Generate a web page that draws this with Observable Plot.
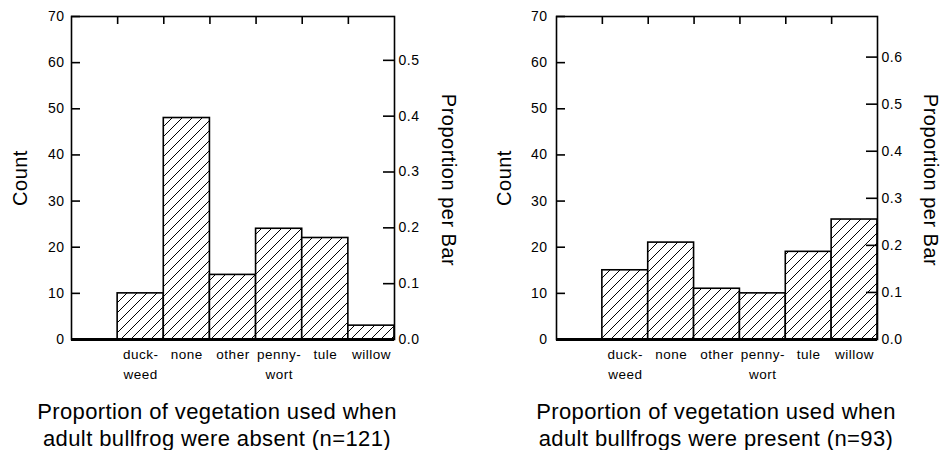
<!DOCTYPE html>
<html><head><meta charset="utf-8">
<script src="https://cdn.jsdelivr.net/npm/d3@7"></script>
<script src="https://cdn.jsdelivr.net/npm/@observablehq/plot@0.6"></script>
<style>
html,body{margin:0;padding:0;background:#fff;}
#wrap{position:relative;width:941px;height:450px;overflow:hidden;font-family:"Liberation Sans",Arial,sans-serif;background:#fff;}
.panel{position:absolute;top:0;}
.cap{position:absolute;top:398px;width:420px;text-align:center;font-size:22px;line-height:27px;letter-spacing:0.4px;color:#000;white-space:nowrap;}
</style></head><body>
<div id="wrap"></div>
<script>
// ---- data ----
const categories = ["duckweed", "none", "other", "pennywort", "tule", "willow"];
const tickLabels = ["duck-\nweed", "none", "other", "penny-\nwort", "tule", "willow"];
const countsAbsent = [10, 48, 14, 24, 22, 3];
const countsPresent = [15, 21, 11, 10, 19, 26];
const countTicks = [0, 10, 20, 30, 40, 50, 60, 70];
const propTicksAbsent = [0, 0.1, 0.2, 0.3, 0.4, 0.5];
const propTicksPresent = [0, 0.1, 0.2, 0.3, 0.4, 0.5, 0.6];
const captionAbsent = ["Proportion of vegetation used when", "adult bullfrog were absent (n=121)"];
const captionPresent = ["Proportion of vegetation used when", "adult bullfrogs were present (n=93)"];

const W = 470, H = 385, MT = 16, FRAME_BOTTOM = 339;

function panel({counts, propTicks, hatchId, marginLeft, marginRight, leftPad, countDx, propDx}) {
  const total = d3.sum(counts);
  const data = categories.map((c, i) => ({cat: c, slot: i + 1, count: counts[i]}));
  const innerW = W - marginLeft - marginRight;
  const innerH = FRAME_BOTTOM - MT;
  const svg = Plot.plot({
    width: W, height: H,
    marginLeft, marginRight, marginTop: MT, marginBottom: H - FRAME_BOTTOM,
    style: {fontFamily: "'Liberation Sans', Arial, sans-serif", fontSize: "14px", color: "#000", background: "transparent", overflow: "visible", letterSpacing: "0.5px"},
    x: {domain: [0, categories.length + 1], axis: null},
    y: {domain: [0, 70], axis: null},
    marks: [
      Plot.rectY(data, {x1: "slot", x2: d => d.slot + 1, y: "count", fill: `url(#${hatchId})`, stroke: "#000", strokeWidth: 1.6}),
      Plot.frame({stroke: "#000", strokeWidth: 1.6}),
      Plot.ruleY([0], {stroke: "#000", strokeWidth: 3}),
      Plot.tickY(countTicks, {y: d => d, insetRight: innerW - 9, stroke: "#000", strokeWidth: 1.6}),
      Plot.tickY(propTicks.map(p => p * total), {y: d => d, insetLeft: innerW - 11, stroke: "#000", strokeWidth: 1.6}),
      Plot.tickX(data.map(d => d.slot), {x: d => d, insetBottom: innerH - 8, stroke: "#000", strokeWidth: 1.6}),
      Plot.axisY(countTicks, {anchor: "left", tickSize: 0, tickPadding: leftPad, label: null, fill: "#000", fontSize: 14}),
      Plot.axisY(propTicks.map(p => p * total), {anchor: "right", tickSize: 0, tickPadding: 4, label: null, tickFormat: d => (d / total).toFixed(1), fill: "#000", fontSize: 14}),
      Plot.axisX(data.map(d => d.slot + 0.5), {anchor: "bottom", tickSize: 0, tickPadding: 6, label: null, lineHeight: 1.45, fontSize: 13.5, tickFormat: d => tickLabels[Math.round(d - 1.5)], fill: "#000"}),
      Plot.text(["Count"], {text: d => d, frameAnchor: "left", dx: countDx, rotate: -90, fontSize: 20, textAnchor: "middle", fill: "#000"}),
      Plot.text(["Proportion per Bar"], {text: d => d, frameAnchor: "right", dx: propDx, dy: 2, rotate: 90, fontSize: 20, textAnchor: "middle", fill: "#000"})
    ]
  });
  const defs = d3.select(svg).insert("defs", ":first-child");
  const pat = defs.append("pattern").attr("id", hatchId).attr("patternUnits", "userSpaceOnUse").attr("width", 10).attr("height", 10);
  pat.append("rect").attr("width", 10).attr("height", 10).attr("fill", "#fff");
  pat.append("path").attr("d", "M-1,1 L1,-1 M0,10 L10,0 M9,11 L11,9").attr("stroke", "#000").attr("stroke-width", 1);
  return svg;
}

const wrap = document.getElementById("wrap");
function addPanel(left, svg, caption, capLeft) {
  const div = document.createElement("div");
  div.className = "panel";
  div.style.left = left + "px";
  div.appendChild(svg);
  wrap.appendChild(div);
  const cap = document.createElement("div");
  cap.className = "cap";
  cap.style.left = capLeft + "px";
  cap.innerHTML = caption.join("<br>");
  wrap.appendChild(cap);
}

addPanel(0, panel({counts: countsAbsent, propTicks: propTicksAbsent, hatchId: "hatchA", marginLeft: 71, marginRight: 76, leftPad: 7, countDx: -51, propDx: 54}), captionAbsent, 7);
addPanel(470, panel({counts: countsPresent, propTicks: propTicksPresent, hatchId: "hatchP", marginLeft: 86, marginRight: 63, leftPad: 9, countDx: -52, propDx: 53}), captionPresent, 506);
</script>
</body></html>
